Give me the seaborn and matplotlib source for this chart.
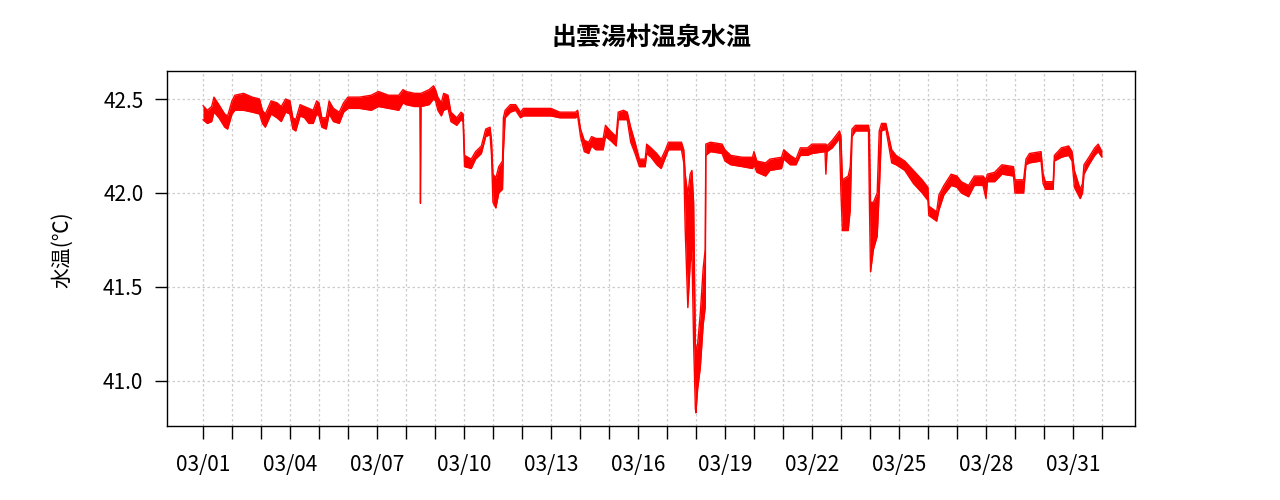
import matplotlib
matplotlib.use("Agg")
import matplotlib.pyplot as plt
import numpy as np
import pandas as pd
import seaborn as sns

# ---- data (days since 03/01 00:00, upper / lower envelope of the noisy trace, °C)
days = [0.00, 0.15, 0.30, 0.38, 0.55, 0.75, 0.85, 1.00, 1.10, 1.40, 1.70, 1.95,
        2.05, 2.15, 2.35, 2.55, 2.70, 2.85, 3.00, 3.10, 3.20, 3.35, 3.50, 3.65,
        3.80, 3.92, 4.00, 4.10, 4.25, 4.35, 4.50, 4.70, 4.85, 5.00, 5.40, 5.80,
        6.05, 6.40, 6.75, 6.90,
        7.00, 7.30, 7.48, 7.50, 7.52, 7.80, 7.95, 8.02, 8.10, 8.22, 8.30, 8.45,
        8.55, 8.75, 8.90, 8.97, 9.02, 9.25, 9.40, 9.60, 9.75, 9.90, 9.95, 10.00,
        10.10, 10.20, 10.33, 10.36, 10.42, 10.60, 10.78, 10.95, 11.05, 11.50,
        12.00, 12.30, 12.85, 12.92, 13.02, 13.15, 13.30, 13.40,
        13.55, 13.80, 13.88, 14.05, 14.25, 14.32, 14.50, 14.63, 14.75, 14.90,
        15.05, 15.25, 15.30, 15.45, 15.65, 15.80, 15.95, 16.05, 16.50, 16.58,
        16.63, 16.72, 16.80, 16.86, 16.92, 16.98, 17.00, 17.06, 17.15, 17.25,
        17.32, 17.34, 17.50, 17.90, 18.00, 18.20, 18.60, 18.95, 19.00, 19.10,
        19.40, 19.55, 19.95, 20.03, 20.25,
        20.45, 20.60, 20.85, 21.00, 21.45, 21.48, 21.52, 21.70, 21.95, 22.00,
        22.05, 22.25, 22.32, 22.38, 22.50, 22.95, 22.98, 23.02, 23.12, 23.25,
        23.32, 23.40, 23.55, 23.65, 23.75, 23.90, 24.20, 24.50, 24.80, 25.00,
        25.03, 25.30, 25.38, 25.55, 25.80, 26.00, 26.15, 26.40, 26.60, 26.90,
        27.00, 27.05, 27.30,
        27.55, 27.95, 28.00, 28.30, 28.38, 28.50, 28.90, 28.97, 29.05, 29.32,
        29.36, 29.60, 29.85, 29.97, 30.05, 30.25, 30.33, 30.38, 30.55, 30.75,
        30.87, 31.00]

temp_hi = [42.465, 42.44, 42.46, 42.51, 42.47, 42.42, 42.41, 42.49, 42.52, 42.53, 42.51, 42.50,
           42.44, 42.42, 42.49, 42.48, 42.46, 42.50, 42.49, 42.40, 42.39, 42.47, 42.46, 42.45,
           42.44, 42.49, 42.48, 42.40, 42.40, 42.49, 42.45, 42.43, 42.48, 42.51, 42.51, 42.52,
           42.54, 42.52, 42.52, 42.55,
           42.54, 42.53, 42.53, 42.53, 42.53, 42.55, 42.57, 42.55, 42.51, 42.48, 42.53, 42.52,
           42.43, 42.40, 42.43, 42.42, 42.20, 42.18, 42.22, 42.25, 42.34, 42.35, 42.28, 42.10,
           42.08, 42.14, 42.17, 42.40, 42.44, 42.47, 42.47, 42.43, 42.45, 42.45,
           42.45, 42.43, 42.43, 42.44, 42.34, 42.28, 42.27, 42.30,
           42.29, 42.29, 42.36, 42.33, 42.30, 42.43, 42.44, 42.43, 42.35, 42.27,
           42.18, 42.18, 42.26, 42.24, 42.21, 42.18, 42.23, 42.27, 42.27, 42.23,
           42.10, 41.99, 42.10, 42.12, 41.95, 41.20, 41.15, 41.20, 41.36, 41.60,
           41.70, 42.26, 42.27, 42.26, 42.23, 42.20, 42.19, 42.19, 42.22, 42.17,
           42.16, 42.18, 42.19, 42.23, 42.20,
           42.18, 42.24, 42.24, 42.26, 42.26, 42.26, 42.25, 42.28, 42.33, 42.30,
           42.07, 42.09, 42.14, 42.34, 42.36, 42.36, 42.33, 41.95, 41.95, 42.00,
           42.33, 42.37, 42.37, 42.30, 42.23, 42.20, 42.17, 42.12, 42.07, 42.03,
           41.93, 41.90, 41.99, 42.04, 42.10, 42.09, 42.06, 42.04, 42.09, 42.09,
           42.07, 42.10, 42.11,
           42.15, 42.14, 42.07, 42.07, 42.18, 42.21, 42.22, 42.10, 42.06, 42.06,
           42.20, 42.24, 42.25, 42.22, 42.12, 42.02, 42.05, 42.15, 42.19, 42.24,
           42.26, 42.22]

temp_lo = [42.39, 42.37, 42.38, 42.43, 42.40, 42.35, 42.34, 42.42, 42.44, 42.44, 42.43, 42.42,
           42.37, 42.35, 42.42, 42.40, 42.38, 42.43, 42.42, 42.34, 42.33, 42.41, 42.40, 42.37,
           42.37, 42.42, 42.41, 42.35, 42.34, 42.42, 42.38, 42.37, 42.43, 42.45, 42.45, 42.44,
           42.46, 42.45, 42.44, 42.48,
           42.47, 42.46, 42.46, 41.945, 42.46, 42.47, 42.50, 42.49, 42.44, 42.41, 42.44, 42.45,
           42.38, 42.36, 42.39, 42.38, 42.14, 42.13, 42.18, 42.21, 42.30, 42.31, 42.20, 41.95,
           41.92, 42.00, 42.02, 42.22, 42.40, 42.43, 42.44, 42.40, 42.41, 42.41,
           42.41, 42.40, 42.40, 42.41, 42.30, 42.22, 42.21, 42.25,
           42.23, 42.23, 42.30, 42.28, 42.25, 42.39, 42.39, 42.39, 42.27, 42.21,
           42.14, 42.14, 42.21, 42.19, 42.15, 42.13, 42.19, 42.23, 42.23, 42.16,
           41.80, 41.39, 41.62, 41.70, 41.20, 40.85, 40.83, 40.96, 41.07, 41.30,
           41.39, 42.20, 42.22, 42.21, 42.17, 42.15, 42.14, 42.13, 42.15, 42.11,
           42.09, 42.12, 42.13, 42.18, 42.15,
           42.15, 42.20, 42.20, 42.21, 42.22, 42.10, 42.22, 42.24, 42.29, 42.00,
           41.80, 41.80, 41.91, 42.30, 42.33, 42.33, 41.96, 41.58, 41.70, 41.77,
           42.00, 42.33, 42.34, 42.25, 42.16, 42.15, 42.12, 42.05, 42.00, 41.96,
           41.88, 41.85, 41.91, 41.99, 42.04, 42.03, 42.00, 41.98, 42.04, 42.04,
           41.97, 42.06, 42.06,
           42.10, 42.09, 42.00, 42.00, 42.15, 42.16, 42.17, 42.05, 42.02, 42.02,
           42.17, 42.19, 42.20, 42.17, 42.03, 41.97, 42.00, 42.10, 42.15, 42.20,
           42.22, 42.19]

tick_days = list(range(32))
label_days = list(range(0, 31, 3))
date_labels = ["03/01", "03/04", "03/07", "03/10", "03/13", "03/16",
               "03/19", "03/22", "03/25", "03/28", "03/31"]
y_ticks = [41.0, 41.5, 42.0, 42.5]
y_labels = ["41.0", "41.5", "42.0", "42.5"]

title = "出雲湯村温泉水温"
ylabel = "水温(℃)"

# ---- drawing
sns.set_theme(style="white")
plt.rcParams["font.family"] = ["Noto Sans CJK JP", "DejaVu Sans"]

df = pd.DataFrame({"day": days, "hi": temp_hi, "lo": temp_lo})

fig = plt.figure(figsize=(12.8, 5), dpi=100)
ax = fig.add_axes([167 / 1280, 1 - 426 / 500, (1135 - 167) / 1280, (426 - 71) / 500])

ax.fill_between(df["day"], df["lo"], df["hi"], color="#ff0000", lw=0, zorder=3)
sns.lineplot(data=df, x="day", y="hi", color="#ff0000", lw=1, ax=ax, zorder=3,
             estimator=None, sort=False)
sns.lineplot(data=df, x="day", y="lo", color="#ff0000", lw=1, ax=ax, zorder=3,
             estimator=None, sort=False)

ax.set_xlim(-1.24, 32.14)
ax.set_ylim(40.76, 42.649)

ax.set_xticks(tick_days)
ax.set_xticklabels([date_labels[label_days.index(d)] if d in label_days else "" for d in tick_days])
ax.set_yticks(y_ticks)
ax.set_yticklabels(y_labels)

ax.grid(True, color="#cccccc", linestyle=(0, (2, 2)), lw=0.9, zorder=0)
ax.set_axisbelow(True)

for s in ax.spines.values():
    s.set_color("black")
    s.set_linewidth(1.0)

ax.tick_params(axis="both", direction="out", length=9, width=1, color="black",
               labelsize=15, labelcolor="black", bottom=True, left=True)
ax.tick_params(axis="x", pad=11)
ax.tick_params(axis="y", pad=8)

ax.set_xlabel("")
ax.set_ylabel(ylabel, fontsize=15, color="black")
ax.yaxis.set_label_coords(-0.097, 0.496)

fig.text(651 / 1280, 1 - 38 / 500, title, ha="center", va="center",
         fontsize=18, fontweight="bold", color="black")

fig.savefig("out.png", dpi=100, facecolor="white")
